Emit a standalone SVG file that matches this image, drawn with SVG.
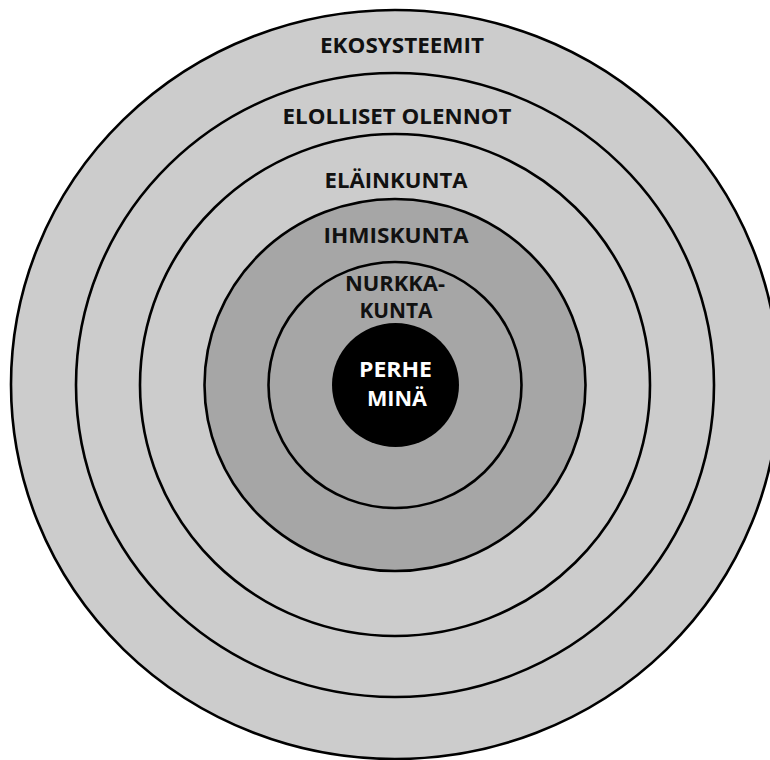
<svg xmlns="http://www.w3.org/2000/svg" width="770" height="760" viewBox="0 0 770 760">
<style>
.ring{stroke:#000;stroke-width:2.6}
.light{fill:#cccccc}
.dark{fill:#a6a6a6}
.lbl{font-family:"Open Sans","Liberation Sans",sans-serif;font-weight:700;font-size:21px;fill:#111;text-anchor:middle}
.wlbl{fill:#fff}
</style>
<rect width="770" height="760" fill="#fff"/>
<g id="ekosysteemit">
<ellipse class="ring light" cx="395" cy="384.5" rx="384" ry="374.5"/>
<text class="lbl" x="402" y="53" textLength="164" lengthAdjust="spacingAndGlyphs">EKOSYSTEEMIT</text>
</g>
<g id="elolliset-olennot">
<ellipse class="ring light" cx="395" cy="385" rx="319" ry="312"/>
<text class="lbl" x="397" y="124" textLength="229" lengthAdjust="spacingAndGlyphs">ELOLLISET OLENNOT</text>
</g>
<g id="elainkunta">
<ellipse class="ring light" cx="395" cy="385" rx="255" ry="251"/>
<text class="lbl" x="396" y="188" textLength="143" lengthAdjust="spacingAndGlyphs">ELÄINKUNTA</text>
</g>
<g id="ihmiskunta">
<ellipse class="ring dark" cx="395" cy="385" rx="190.5" ry="186"/>
<text class="lbl" x="396" y="243" textLength="145" lengthAdjust="spacingAndGlyphs">IHMISKUNTA</text>
</g>
<g id="nurkkakunta">
<ellipse class="ring dark" cx="395" cy="385" rx="126.5" ry="123"/>
<text class="lbl" x="395" y="291" textLength="100" lengthAdjust="spacingAndGlyphs">NURKKA-</text>
<text class="lbl" x="396" y="318" textLength="73" lengthAdjust="spacingAndGlyphs">KUNTA</text>
</g>
<g id="perhe-mina">
<ellipse cx="395.5" cy="385" rx="63.5" ry="62" fill="#000"/>
<text class="lbl wlbl" x="395.5" y="377" textLength="73" lengthAdjust="spacingAndGlyphs">PERHE</text>
<text class="lbl wlbl" x="397" y="406" textLength="60" lengthAdjust="spacingAndGlyphs">MINÄ</text>
</g>
<g id="connectors"></g>
</svg>
